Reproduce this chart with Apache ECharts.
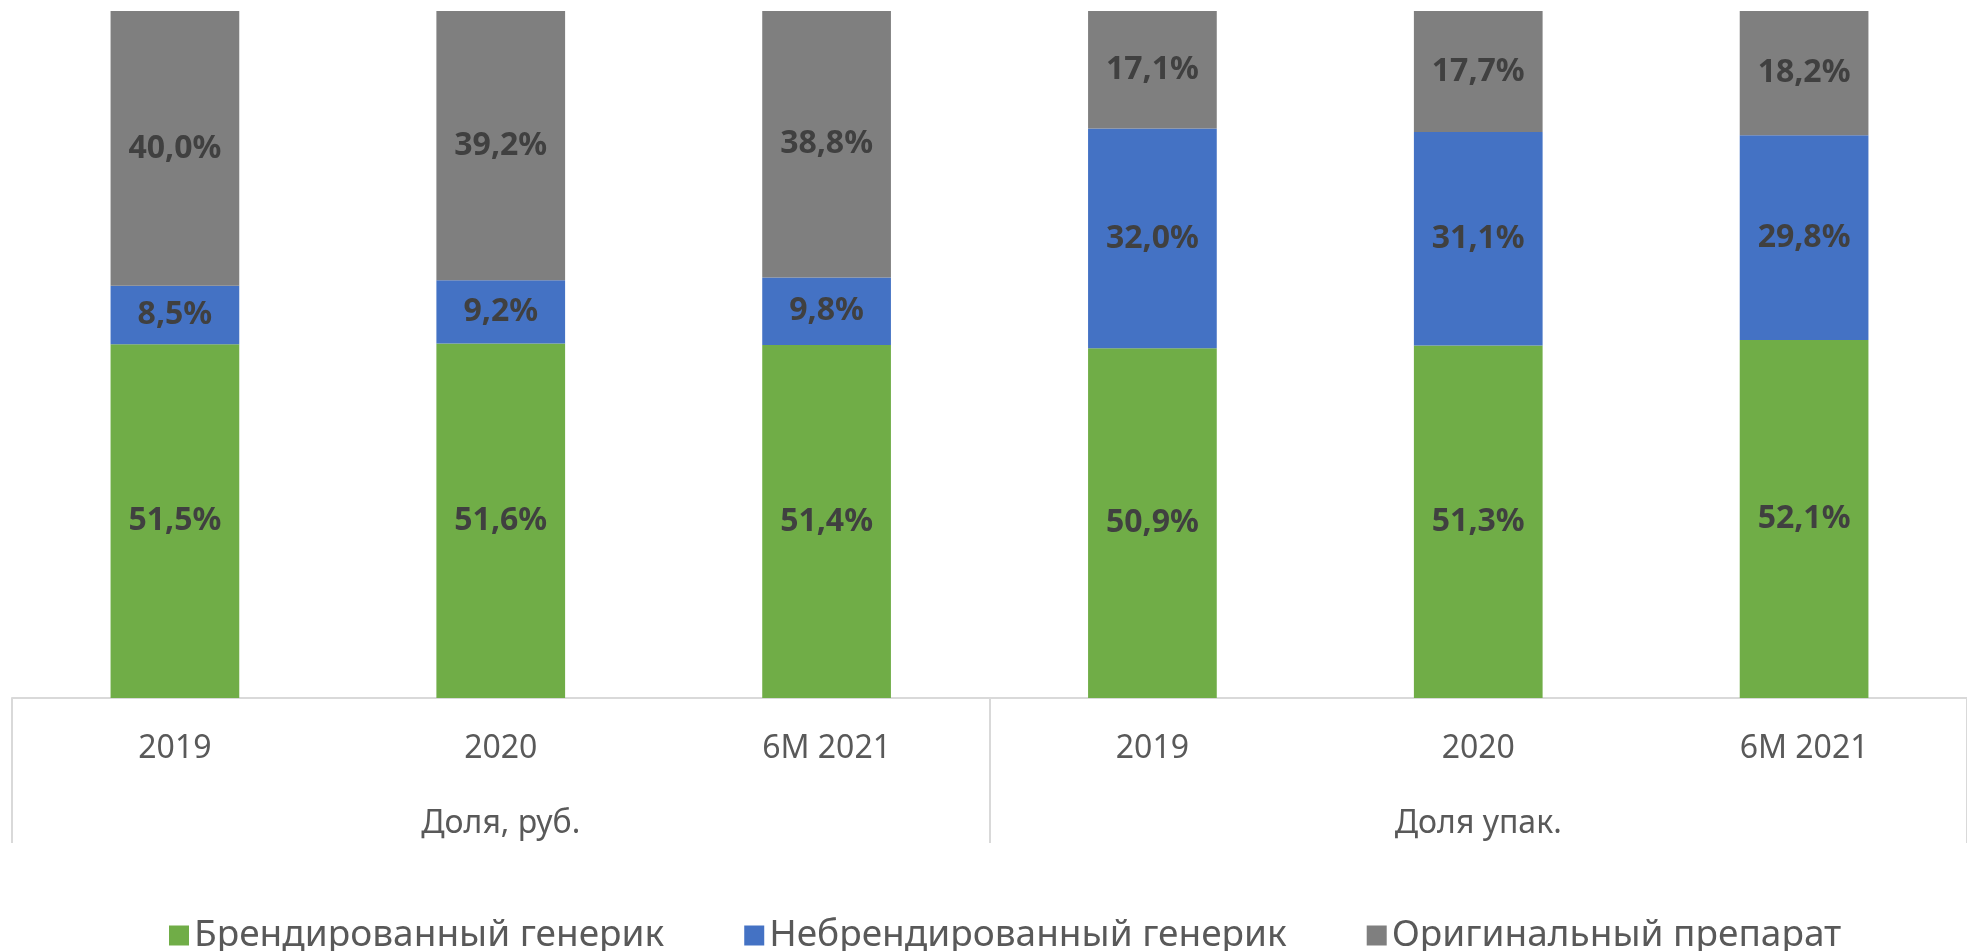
<!DOCTYPE html>
<html>
<head>
<meta charset="utf-8">
<script src="https://cdn.jsdelivr.net/npm/echarts@6/dist/echarts.min.js"></script>
<style>
  html, body { margin: 0; padding: 0; background: #fff; }
  #chart { width: 1967px; height: 951px; }
</style>
</head>
<body>
<div id="chart"></div>
<script>
// подписи категорий (нижний уровень и группы)
const periods = ['2019', '2020', '6M 2021', '2019', '2020', '6M 2021'];
const groups = ['Доля, руб.', 'Доля упак.'];

// доли, %
const branded = [51.5, 51.6, 51.4, 50.9, 51.3, 52.1];
const unbranded = [8.5, 9.2, 9.8, 32.0, 31.1, 29.8];
const original = [40.0, 39.2, 38.8, 17.1, 17.7, 18.2];

const seriesNames = ['Брендированный генерик', 'Небрендированный генерик', 'Оригинальный препарат'];
const colors = ['#70ad47', '#4472c4', '#7f7f7f'];

const font = 'Noto Sans';
const chart = echarts.init(document.getElementById('chart'));

function fmt(p) {
  return p.value.toFixed(1).replace('.', ',') + '%';
}

function makeSeries(name, data, color) {
  return {
    name: name,
    type: 'bar',
    stack: 'total',
    barWidth: '39.5%',
    data: data,
    itemStyle: { color: color },
    label: {
      show: true,
      position: 'inside',
      formatter: fmt,
      color: '#404040',
      fontFamily: font,
      fontWeight: 'bold',
      fontSize: 32
    }
  };
}

const option = {
  animation: false,
  grid: { left: 12, top: 11, width: 1977, bottom: 253 },
  legend: {
    top: 912,
    left: 164,
    icon: 'rect',
    itemWidth: 20,
    itemHeight: 20,
    itemGap: 80,
    itemTextGap: 7,
    textStyle: { color: '#595959', fontFamily: font, fontSize: 37 },
    data: seriesNames
  },
  xAxis: [
    {
      type: 'category',
      data: periods,
      axisLine: { lineStyle: { color: '#d9d9d9', width: 2 } },
      axisTick: { show: false },
      axisLabel: { color: '#595959', fontFamily: font, fontSize: 32, margin: 35 }
    },
    {
      type: 'category',
      position: 'bottom',
      data: groups,
      axisLine: { show: false },
      axisTick: { show: true, length: 145, lineStyle: { color: '#d9d9d9', width: 2 } },
      axisLabel: { color: '#595959', fontFamily: font, fontSize: 32, margin: 110 }
    }
  ],
  yAxis: {
    type: 'value',
    min: 0,
    max: 100,
    show: false,
    splitLine: { show: false }
  },
  series: [
    makeSeries(seriesNames[0], branded, colors[0]),
    makeSeries(seriesNames[1], unbranded, colors[1]),
    makeSeries(seriesNames[2], original, colors[2])
  ]
};

chart.setOption(option);
</script>
</body>
</html>
